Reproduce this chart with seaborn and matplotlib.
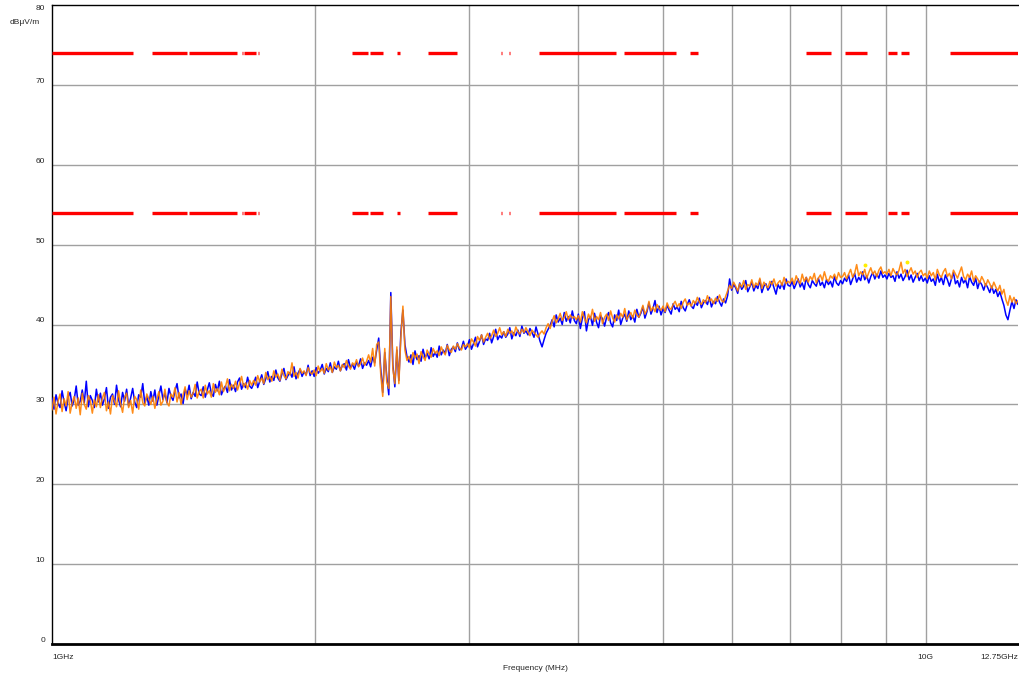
import numpy as np
import pandas as pd
import matplotlib
matplotlib.use("Agg")
import matplotlib.pyplot as plt
import matplotlib.ticker as mticker
import seaborn as sns

# ---------------- data ----------------
f_start_mhz = 1000.0
f_stop_mhz = 12750.0

# blue trace (dBuV/m), sweep points from 1 GHz to 12.75 GHz
blue_vals = [
    # 1.00 - 1.13 GHz
    30.8, 29.4, 31.2, 30.1, 29.6, 31.7, 30.3, 29.2, 30.9, 31.5, 29.8, 30.6, 32.3, 29.9, 30.4, 31.8, 30.2, 32.9, 29.7, 31.1, 30.5, 29.6, 31.9, 30.3,
    31.4, 29.9, 30.7, 32.1, 29.5, 30.9, 31.3, 30.0, 32.4, 30.6, 29.7, 31.5, 30.4, 31.9, 29.8, 30.8, 32.0, 30.3, 29.6, 31.2, 30.9, 32.6, 30.1, 31.0, 29.9, 31.6,
    30.4, 31.8, 29.9, 31.1, 32.3, 30.6, 31.4, 30.2, 32.0, 31.0, 30.5, 31.7, 32.6, 30.8, 31.3, 30.1, 31.9, 31.2, 32.4, 30.7, 31.5, 31.0, 32.8, 31.3,
    31.1, 32.2, 30.9, 31.8, 32.7, 31.4, 31.0, 32.5, 31.7, 32.9, 31.2, 31.9, 32.3, 31.5, 33.1, 31.8, 32.4, 31.6, 32.8, 33.3, 31.9, 32.6, 32.1, 33.4, 32.3, 32.0,
    32.6, 33.4, 32.1, 32.9, 33.7, 32.5, 33.2, 34.1, 32.8, 33.5, 33.0, 34.3, 33.3, 32.9, 33.8, 34.5, 33.1, 33.6, 34.0, 33.4, 34.7, 33.2, 33.9, 34.4, 33.5, 34.1, 33.7, 34.9, 33.6, 34.2,
    33.5, 34.6, 33.9, 34.3, 35.0, 33.8, 34.5, 34.1, 35.2, 34.0, 34.7, 34.4, 35.4, 34.2, 34.9, 35.1, 34.3, 35.6, 34.6, 35.0, 34.4, 35.3, 34.8, 35.7, 34.5, 35.2, 34.9, 35.5, 34.7, 35.9,
    # ~2.4 GHz disturbance
    35.2, 36.8, 38.3, 34.5, 31.5, 36.5, 33.5, 31.2, 44.0, 35.0, 32.2, 36.8, 33.0, 39.0, 41.8, 37.5, 36.0,
    35.3, 36.2, 35.0, 36.7, 35.6, 36.1, 35.4, 36.9, 35.8, 36.4, 35.7, 37.1, 36.0, 36.5, 35.9, 37.3, 36.2, 36.8, 36.4, 37.5, 36.1, 36.9, 37.2, 36.6, 37.7, 36.8, 37.0, 37.9, 36.9,
    # 3 - 4 GHz
    37.3, 38.1, 36.9, 37.6, 38.4, 37.2, 37.9, 38.7, 37.5, 38.2,
    38.0, 38.9, 37.7, 38.5, 39.4, 38.1, 38.6, 38.3, 39.1, 38.4,
    38.8, 39.6, 38.2, 39.0, 38.6, 39.3, 38.5, 39.8, 38.9, 39.2,
    38.7, 39.5, 39.0, 38.4, 39.7, 38.8, 37.9, 37.2, 38.1, 38.9,
    39.4, 39.9, 40.6, 39.7, 41.2, 40.3, 40.8, 40.0, 41.5, 40.4,
    41.0, 40.2, 41.7, 40.5,
    # 4 - 5 GHz
    40.1, 41.3, 39.5, 40.8, 41.6, 39.2, 40.6, 41.0, 39.9, 41.4,
    40.3, 39.6, 41.1, 40.7, 39.8, 40.9, 41.5, 40.2, 39.7, 41.2,
    40.5, 41.8, 40.0, 40.8, 41.3, 40.4, 41.7, 40.6, 41.1, 40.3,
    41.9, 40.9, 41.4, 42.2, 40.8, 41.6, 42.7, 41.3, 42.0, 43.0,
    41.5, 42.3,
    # 5 - 6 GHz
    41.2, 42.0, 41.5, 42.4, 41.8, 41.3, 42.6, 41.9, 42.2, 41.6,
    42.9, 42.1, 41.7, 42.5, 43.1, 42.3, 42.0, 42.8, 42.4, 43.3,
    42.1, 42.7, 43.0, 42.5, 43.4, 42.2, 42.9, 42.6, 43.5, 42.8,
    42.3, 43.2, 42.7, 43.6,
    # 6 - 7 GHz
    45.7, 44.3, 45.0, 44.6, 43.9, 45.2, 44.4, 44.8, 45.5, 44.1,
    44.7, 45.3, 44.2, 44.9, 44.5, 45.6, 44.0, 44.8, 45.1, 44.3,
    44.7, 45.4, 44.6, 43.8, 45.0, 44.5, 45.2, 44.4, 45.7, 44.9,
    # 7 - 8 GHz
    44.8, 45.4, 44.5, 45.1, 45.7, 44.7, 45.2, 44.4, 45.9, 45.0,
    44.6, 45.5, 45.1, 44.8, 45.8, 44.9, 45.3, 44.6, 45.6, 45.0,
    45.4, 44.7, 46.0, 45.2, 44.9, 45.5,
    # 8 - 9 GHz
    45.1, 45.8, 45.4, 46.2, 45.0, 45.7, 46.4, 45.3, 45.9, 45.5,
    46.6, 45.6, 46.1, 45.2, 46.0, 46.5, 45.7, 46.3, 45.8, 46.7,
    45.9, 46.2,
    # 9 - 10 GHz
    45.7, 46.4, 45.9, 46.1, 45.4, 46.6, 45.8, 46.3, 45.5, 46.0,
    46.8, 45.6, 46.2, 45.3, 45.9, 46.4, 45.5, 46.1, 45.4,
    # 10 - 12.75 GHz
    45.8, 45.2, 46.1, 45.4, 45.7, 44.9, 46.3, 45.3, 45.9, 45.0,
    46.2, 45.6, 44.8, 45.7, 46.5, 45.1, 45.5, 44.7, 45.9, 45.2,
    45.6, 44.6, 46.0, 45.3, 44.9, 45.8, 44.5, 45.4, 45.0, 44.3,
    45.1, 44.6, 44.0, 44.8, 43.9, 44.4, 43.5, 44.1, 43.2, 42.4,
    41.2, 40.6, 41.8, 42.9, 42.0, 43.1, 42.5,
]

# orange trace (dBuV/m)
orange_vals = [
    29.3, 30.9, 28.8, 30.4, 31.3, 29.1, 30.7, 29.8, 31.6, 28.9, 30.2, 31.0, 29.5, 30.8, 28.7, 31.4, 30.0, 29.4, 31.1, 30.5, 28.9, 30.6, 29.7, 31.2,
    29.6, 30.8, 31.5, 29.2, 30.3, 28.8, 31.1, 30.4, 29.7, 31.7, 30.1, 29.0, 30.9, 31.4, 29.6, 30.5, 28.9, 31.0, 30.6, 29.4, 31.8, 30.2, 29.8, 31.3, 30.7, 30.0,
    31.0, 29.5, 30.7, 31.6, 29.9, 30.4, 31.9, 30.2, 29.8, 31.3, 30.9, 32.1, 30.3, 31.5, 30.0, 31.2, 32.2, 30.6, 31.7, 30.9, 31.4, 32.5, 30.8, 31.6,
    31.9, 30.8, 32.4, 31.3, 31.7, 30.9, 32.6, 31.5, 32.0, 31.2, 32.8, 31.6, 32.2, 33.2, 31.7, 32.5, 32.0, 32.9, 31.8, 32.6, 33.5, 32.2, 32.7, 31.9, 33.0, 32.4,
    33.0, 32.4, 33.6, 32.8, 33.3, 32.6, 34.0, 33.1, 33.5, 32.9, 34.2, 33.4, 33.8, 33.0, 34.4, 33.6, 33.2, 34.1, 33.7, 35.2, 33.5, 34.0, 33.3, 34.5, 33.9, 34.2, 33.6, 34.6, 34.0, 33.8,
    34.3, 33.6, 34.8, 34.1, 34.5, 33.9, 35.1, 34.3, 34.7, 34.0, 35.3, 34.6, 34.9, 34.2, 35.0, 34.6, 35.5, 34.8, 34.4, 35.2, 34.9, 35.6, 34.7, 35.1, 35.8, 34.9, 35.4, 36.2, 35.3, 37.0,
    34.8, 37.5, 37.8, 33.8, 31.0, 37.0, 32.8, 32.0, 43.5, 34.5, 32.6, 37.2, 32.6, 38.5, 42.3, 36.8, 35.5,
    36.0, 35.2, 36.5, 35.8, 36.3, 35.1, 36.6, 36.0, 35.5, 36.8, 36.3, 35.9, 37.0, 36.4, 36.7, 36.1, 37.2, 36.6, 36.2, 37.4, 36.8, 36.5, 37.3, 36.9, 37.6, 37.1, 36.8, 37.5, 37.2,
    37.6, 37.1, 38.2, 37.8, 37.3, 38.5, 38.0, 38.7, 37.8, 38.4,
    38.9, 38.2, 38.6, 39.3, 38.5, 38.9, 39.6, 38.7, 39.1, 38.5,
    39.4, 38.9, 39.2, 38.6, 39.7, 39.1, 38.8, 39.4, 39.0, 39.6,
    39.1, 38.6, 39.3, 39.0, 38.7, 38.4, 38.9, 39.2, 38.8, 39.6,
    40.1, 39.5, 40.4, 41.1, 40.2, 40.7, 41.4, 40.5, 40.9, 41.6,
    40.6, 41.2, 40.8, 41.0,
    40.6, 41.1, 40.3, 41.6, 40.8, 40.2, 41.3, 40.7, 41.9, 40.4,
    41.0, 40.6, 41.5, 40.1, 40.9, 41.3, 40.5, 41.7, 40.8, 40.3,
    41.2, 40.7, 41.4, 40.9, 42.0, 40.6, 41.1, 41.5, 40.8, 41.8,
    41.2, 40.9, 41.6, 42.4, 41.3, 41.8, 42.9, 41.7, 42.2, 41.6,
    42.5, 42.0,
    41.8, 42.3, 41.6, 42.7, 42.1, 41.9, 42.5, 42.9, 42.2, 42.6,
    42.0, 42.8, 43.2, 42.4, 42.7, 42.3, 43.0, 42.6, 43.4, 42.8,
    42.5, 43.1, 42.7, 43.6, 42.9, 43.2, 42.6, 43.3, 42.9, 43.7,
    43.0, 42.8, 43.5, 44.2,
    44.9, 44.5, 45.3, 44.8, 44.2, 45.1, 44.7, 45.5, 44.4, 45.0,
    44.8, 45.6, 44.6, 45.2, 44.9, 45.8, 44.5, 45.3, 44.9, 44.6,
    45.4, 45.0, 45.7, 44.8, 45.2, 45.5, 44.9, 45.9, 45.1, 45.4,
    45.2, 45.8, 45.0, 46.1, 45.5, 45.1, 46.3, 45.4, 45.9, 45.3,
    46.0, 45.6, 46.4, 45.2, 45.8, 46.2, 45.5, 46.6, 45.7, 45.4,
    46.1, 45.8, 46.3, 45.6, 46.5, 45.9,
    46.0, 46.5, 45.7, 46.3, 46.9, 45.9, 46.4, 47.5, 46.1, 46.6,
    46.2, 46.9, 45.8, 46.5, 47.1, 46.3, 46.7, 46.0, 46.8, 47.2,
    46.4, 46.6,
    46.3, 46.9, 46.1, 47.0, 46.5, 46.2, 46.8, 47.8, 46.4, 46.9,
    46.0, 46.6, 47.1, 46.3, 46.7, 45.9, 46.5, 46.8, 46.1,
    46.4, 45.8, 46.7, 46.1, 46.5, 45.6, 46.9, 46.2, 45.9, 46.6,
    47.0, 46.0, 46.4, 45.7, 46.8, 46.3, 45.8, 46.5, 47.2, 46.0,
    45.6, 46.3, 45.9, 46.7, 45.4, 46.1, 45.7, 45.2, 46.0, 45.5,
    44.8, 45.6, 45.1, 44.5, 45.3, 44.7, 44.2, 44.9, 43.8, 44.4,
    43.1, 42.4, 43.6, 42.8, 43.4, 42.6, 43.0,
]

# peak markers (MHz, dBuV/m)
peak_freqs = [8510, 9520]
peak_vals = [47.5, 47.8]

# limit lines (dBuV/m) and the frequency segments (MHz) where they are drawn
limit_peak = 74
limit_avg = 54
limit_seg_start = [1000, 1302, 1435, 1651, 1660, 1722, 2207, 2314, 2485, 2696, 3268,
                   3338, 3360, 3613, 4509, 5366, 7288, 8077, 9047, 9363, 10654]
limit_seg_stop = [1238, 1428, 1629, 1655, 1713, 1726, 2301, 2394, 2504, 2910, 3272,
                  3343, 3365, 4415, 5172, 5481, 7786, 8559, 9264, 9561, 12750]

y_ticks = [0, 10, 20, 30, 40, 50, 60, 70, 80]
x_major_ticks = [1000, 10000, 12750]
x_major_labels = ["1GHz", "10G", "12.75GHz"]
x_minor_ticks = [2000, 3000, 4000, 5000, 6000, 7000, 8000, 9000]

# ---------------- plot ----------------
sns.set_style("white")
plt.rcParams["font.family"] = ["Liberation Sans", "DejaVu Sans"]

W, H = 1019, 674
fig = plt.figure(figsize=(W / 100, H / 100), dpi=100)
ax = fig.add_axes([52 / W, (H - 644) / H, 966 / W, (644 - 5) / H])

freq_b = np.geomspace(f_start_mhz, f_stop_mhz, len(blue_vals))
freq_o = np.geomspace(f_start_mhz, f_stop_mhz, len(orange_vals))
df_b = pd.DataFrame({"freq": freq_b, "level": blue_vals})
df_o = pd.DataFrame({"freq": freq_o, "level": orange_vals})

ax.set_xscale("log")

# grid
for xv in x_minor_ticks + [10000]:
    ax.axvline(xv, color="#a0a0a0", lw=1.0, zorder=0)
for yv in y_ticks[1:-1]:
    ax.axhline(yv, color="#a0a0a0", lw=1.0, zorder=0)

# limit lines
for s, e in zip(limit_seg_start, limit_seg_stop):
    ax.hlines([limit_peak, limit_avg], s, e, colors="#ff0000", lw=2.4, zorder=3)

sns.lineplot(data=df_b, x="freq", y="level", ax=ax, color="#0000ff", lw=1.1,
             estimator=None, sort=False, zorder=4)
sns.lineplot(data=df_o, x="freq", y="level", ax=ax, color="#ff8000", lw=1.1,
             estimator=None, sort=False, zorder=5, alpha=0.9)
ax.scatter(peak_freqs, peak_vals, s=8, color="#ffee00", zorder=6, linewidths=0)

ax.set_xlim(f_start_mhz, f_stop_mhz)
ax.set_ylim(0, 80)

ax.xaxis.set_major_locator(mticker.FixedLocator(x_major_ticks))
ax.xaxis.set_major_formatter(mticker.FixedFormatter(x_major_labels))
ax.xaxis.set_minor_locator(mticker.NullLocator())
ax.set_yticks(y_ticks)
ax.set_yticklabels([str(v) for v in y_ticks])

ax.tick_params(axis="x", which="major", direction="out", length=5, width=0.8,
               color="black", labelsize=6, pad=2)
ax.tick_params(axis="y", which="major", direction="out", length=3, width=0.8,
               color="black", labelsize=6, pad=2)
ylabs = ax.get_yticklabels()
for lab in ylabs:
    lab.set_va("bottom")
ylabs[-1].set_va("top")
xl = ax.get_xticklabels()
xl[0].set_ha("left")
xl[-1].set_ha("right")

ax.set_xlabel("Frequency (MHz)", fontsize=6, labelpad=3)
ax.set_ylabel("")
fig.text(10 / W, 1 - 22 / H, "dBμV/m", fontsize=6, ha="left", va="center")

for sp in ["top", "left"]:
    ax.spines[sp].set_color("black")
    ax.spines[sp].set_linewidth(1.0)
ax.spines["bottom"].set_color("black")
ax.spines["bottom"].set_linewidth(2.0)
ax.spines["right"].set_visible(False)

fig.savefig("out.png", dpi=100)
